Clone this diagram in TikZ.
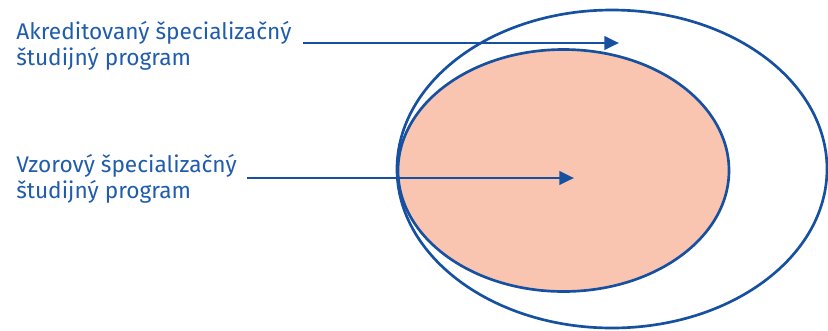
\documentclass[tikz,border=0pt]{standalone}
\usepackage{fontspec}
\setmainfont{Fira Sans}
\usetikzlibrary{arrows.meta}

\definecolor{progblue}{RGB}{22,80,160}
\definecolor{textblue}{RGB}{32,92,172}
\definecolor{salmon}{RGB}{249,196,176}

\tikzset{
    label text/.style={anchor=base west, inner sep=0pt, align=left,
        text=textblue, font=\fontsize{17pt}{19.5pt}\selectfont},
    pointer/.style={progblue, line width=2.2pt,
        -{Triangle[length=11pt,width=10pt]}},
    ring/.style={draw=progblue, line width=2pt}
}

\begin{document}
\begin{tikzpicture}[x=0.75pt, y=-0.75pt]

    \useasboundingbox (0,0) rectangle (828,330);

    % ellipses
    \draw[ring] (612,169) ellipse [x radius=215, y radius=159];
    \draw[ring, fill=salmon] (563.5,170.5) ellipse [x radius=165.5, y radius=121];

    % labels (base = last line)
    \node[label text] (akred) at (16,65)
        {Akreditovaný špecializačný\\študijný program};

    \node[label text] (vzor) at (16,198)
        {Vzorový špecializačný\\študijný program};

    % arrow ends
    \coordinate (akredfrom) at (303,43);
    \coordinate (akredto) at (619,43);
    \coordinate (vzorfrom) at (247,178);
    \coordinate (vzorto) at (574,178);

    \draw[pointer] (akredfrom) -- (akredto);
    \draw[pointer] (vzorfrom) -- (vzorto);

\end{tikzpicture}
\end{document}
